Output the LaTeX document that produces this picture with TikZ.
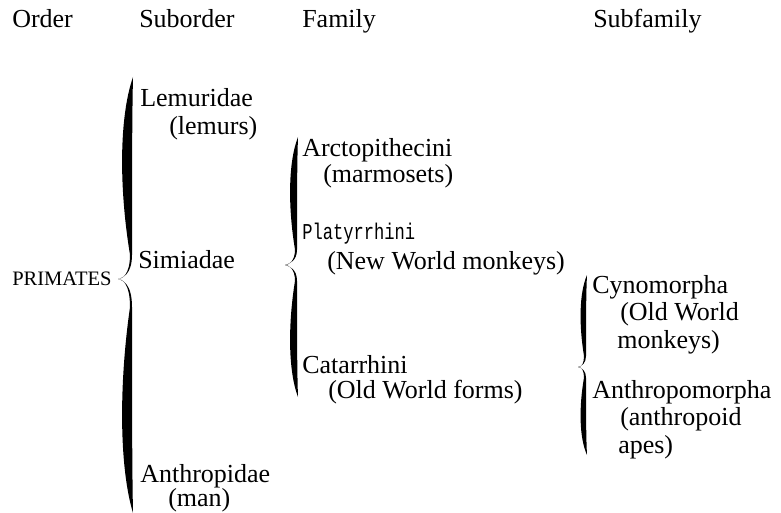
\documentclass[tikz,border=0pt]{standalone}
\usepackage{fontspec}
\setmainfont{Liberation Serif}
\newfontfamily\platfont{Liberation Mono}
\usepackage{tikz}
\usetikzlibrary{calc, positioning}

% #1 body x, #2 tip x, #3 top y, #4 tip y, #5 bottom y, #6 thickness
\newcommand\calbrace[6]{%
  \pgfmathsetmacro\cbU{#4-#3}\pgfmathsetmacro\cbL{#5-#4}%
  \fill (#1+2,#3) .. controls (#1-#6,#3+0.2*\cbU) and (#1-#6,#4-0.45*\cbU) .. (#1-1,#4-0.12*\cbU)
    .. controls (#1-1,#4-4) and (#2+4,#4) .. (#2,#4)
    .. controls (#2+4,#4-1) and (#1+1,#4-4) .. (#1+1,#4-0.12*\cbU)
    .. controls (#1+1,#4-0.45*\cbU) and (#1+1,#3+0.2*\cbU) .. (#1+2,#3) -- cycle;
  \fill (#2,#4) .. controls (#2+4,#4+1) and (#1+1,#4+4) .. (#1+1,#4+0.12*\cbL)
    .. controls (#1+1,#4+0.45*\cbL) and (#1+1,#5-0.2*\cbL) .. (#1+2,#5)
    .. controls (#1-#6,#5-0.2*\cbL) and (#1-#6,#4+0.45*\cbL) .. (#1-1,#4+0.12*\cbL)
    .. controls (#1-1,#4+4) and (#2+4,#4) .. (#2,#4) -- cycle;
}

\begin{document}
\begin{tikzpicture}[x=0.75pt,y=-0.75pt,
    taxon/.style={anchor=base west,inner sep=0pt,font=\fontsize{19.5}{24}\selectfont},
    head/.style={taxon},
    order/.style={anchor=base west,inner sep=0pt,font=\fontsize{15.4}{18}\selectfont},
    mono/.style={anchor=base west,inner sep=0pt,font=\platfont\fontsize{17}{20}\selectfont}]

  \useasboundingbox (0,0) rectangle (781,513);

  % column heads
  \node[head] (hOrder) at (12,28) {Order};
  \node[head] (hSuborder) at (139,28) {Suborder};
  \node[head] (hFamily) at (302,28) {Family};
  \node[head] (hSubfamily) at (593,28) {Subfamily};

  % order
  \node[order] (primates) at (12,286) {PRIMATES};

  % suborders
  \node[taxon] (lemuridae) at (140,107) {Lemuridae};
  \node[taxon] (lemurs) at (169,135) {(lemurs)};
  \node[taxon] (simiadae) at (138,268) {Simiadae};
  \node[taxon] (anthropidae) at (140,482) {Anthropidae};
  \node[taxon] (man) at (168,506) {(man)};

  % families
  \node[taxon] (arcto) at (302,157) {Arctopithecini};
  \node[taxon] (marmosets) at (323,183) {(marmosets)};
  \node[mono] (platy) at (302,239) {\scalebox{0.755}[1]{Platyrrhini}};
  \node[taxon] (newworld) at (327,269) {(New World monkeys)};
  \node[taxon] (catarrhini) at (302,373) {Catarrhini};
  \node[taxon] (oldforms) at (328,398) {(Old World forms)};

  % subfamilies
  \node[taxon] (cyno) at (592,293) {Cynomorpha};
  \node[taxon] (oldworld) at (620,320) {(Old World};
  \node[taxon] (monkeys) at (617,348) {monkeys)};
  \node[taxon] (anthropo) at (592,398) {Anthropomorpha};
  \node[taxon] (anthropoid) at (620,425) {(anthropoid};
  \node[taxon] (apes) at (618,453) {apes)};

  % braces
  \calbrace{131}{118}{77}{279}{513}{12}
  \calbrace{296}{285}{137}{265}{397}{8}
  \calbrace{585}{578}{275}{367}{455}{6}

\end{tikzpicture}
\end{document}
